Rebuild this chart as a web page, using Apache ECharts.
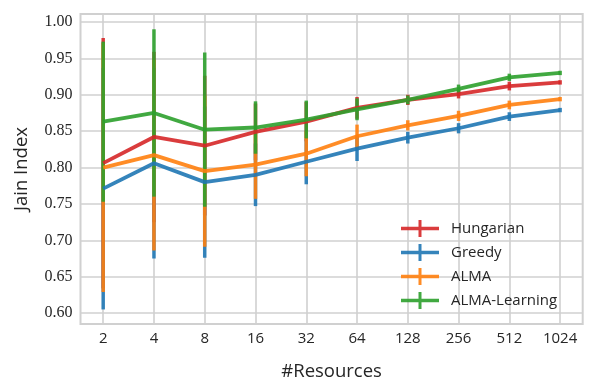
<!DOCTYPE html>
<html>
<head>
<meta charset="utf-8">
<script src="https://cdn.jsdelivr.net/npm/echarts@6/dist/echarts.min.js"></script>
<style>
  html, body { margin: 0; padding: 0; background: #fff; }
  #chart { width: 598px; height: 388px; }
</style>
</head>
<body>
<div id="chart"></div>
<script>
// x categories (#Resources) and y tick labels
var categories = ['2', '4', '8', '16', '32', '64', '128', '256', '512', '1024'];
var yTicks = [0.60, 0.65, 0.70, 0.75, 0.80, 0.85, 0.90, 0.95, 1.00];

// mean Jain index per method, with error half-widths
var hungarianMean = [0.806, 0.842, 0.830, 0.849, 0.863, 0.882, 0.893, 0.901, 0.912, 0.917];
var hungarianErr  = [0.172, 0.117, 0.096, 0.039, 0.027, 0.015, 0.007, 0.006, 0.006, 0.003];

var greedyMean = [0.771, 0.806, 0.780, 0.790, 0.808, 0.826, 0.841, 0.854, 0.870, 0.879];
var greedyErr  = [0.166, 0.131, 0.104, 0.043, 0.031, 0.017, 0.008, 0.007, 0.006, 0.003];

var almaMean = [0.800, 0.817, 0.795, 0.804, 0.819, 0.843, 0.858, 0.871, 0.886, 0.894];
var almaErr  = [0.171, 0.131, 0.104, 0.047, 0.031, 0.016, 0.007, 0.007, 0.006, 0.003];

var almaLearningMean = [0.863, 0.875, 0.852, 0.855, 0.866, 0.880, 0.893, 0.908, 0.924, 0.930];
var almaLearningErr  = [0.110, 0.115, 0.106, 0.036, 0.026, 0.015, 0.006, 0.006, 0.005, 0.003];

var methods = [
  { name: 'Hungarian', color: '#d62728', mean: hungarianMean, err: hungarianErr },
  { name: 'Greedy', color: '#1f77b4', mean: greedyMean, err: greedyErr },
  { name: 'ALMA', color: '#ff7f0e', mean: almaMean, err: almaErr },
  { name: 'ALMA-Learning', color: '#2ca02c', mean: almaLearningMean, err: almaLearningErr }
];

var textColor = '#262626';
var gridColor = '#d0d0d0';
var sansFont = 'Open Sans';
var serifFont = 'Liberation Serif';
var plusIcon = 'path://M0,6.75L38,6.75L38,10.25L0,10.25Z M17.5,0L20.5,0L20.5,17L17.5,17Z';

var xIdx = categories.map(function (c, i) { return i; });

var series = [];
methods.forEach(function (m) {
  var bars = m.mean.map(function (v, i) {
    return [i, v - m.err[i], v + m.err[i]];
  });
  // vertical error bars
  series.push({
    name: m.name,
    type: 'custom',
    z: 1,
    data: bars,
    encode: { x: 0, y: [1, 2] },
    itemStyle: { color: m.color },
    renderItem: function (params, api) {
      var lo = api.coord([api.value(0), api.value(1)]);
      var hi = api.coord([api.value(0), api.value(2)]);
      return {
        type: 'line',
        shape: { x1: lo[0], y1: lo[1], x2: hi[0], y2: hi[1] },
        style: { stroke: m.color, lineWidth: 3.5, opacity: 0.9 }
      };
    }
  });
  series.push({
    name: m.name,
    type: 'line',
    z: 2,
    symbol: 'none',
    data: m.mean.map(function (v, i) { return [i, v]; }),
    itemStyle: { color: m.color },
    lineStyle: { color: m.color, width: 3.8, opacity: 0.9 }
  });
});

var chart = echarts.init(document.getElementById('chart'));
var option = {
  animation: false,
  backgroundColor: '#fff',
  grid: {
    left: 80.5,
    right: 15.3,
    top: 14,
    bottom: 64,
    show: true,
    borderColor: gridColor,
    borderWidth: 2
  },
  legend: {
    orient: 'vertical',
    left: 401,
    top: 220,
    padding: 0,
    itemWidth: 38,
    itemHeight: 17,
    itemGap: 7,
    data: methods.map(function (m) {
      return { name: m.name, icon: plusIcon, itemStyle: { color: m.color, opacity: 0.9 } };
    }),
    textStyle: { fontFamily: sansFont, fontSize: 15, color: textColor, padding: [0, 0, 0, 7] }
  },
  xAxis: {
    type: 'value',
    min: -0.447,
    max: 9.445,
    name: '#Resources',
    nameLocation: 'middle',
    nameGap: 38,
    nameTextStyle: { fontFamily: sansFont, fontSize: 18.5, color: textColor },
    axisLine: { show: false },
    axisTick: { show: false, customValues: xIdx },
    axisLabel: {
      customValues: xIdx,
      margin: 7,
      fontFamily: sansFont,
      fontSize: 15,
      color: textColor,
      formatter: function (v) { return categories[Math.round(v)]; }
    },
    splitLine: { show: true, lineStyle: { color: gridColor, width: 1.6 } }
  },
  yAxis: {
    type: 'value',
    min: 0.585,
    max: 1.011,
    name: 'Jain Index',
    nameLocation: 'middle',
    nameGap: 49,
    nameRotate: 90,
    nameTextStyle: { fontFamily: sansFont, fontSize: 18.5, color: textColor },
    axisLine: { show: false },
    axisTick: { show: false, customValues: yTicks },
    axisLabel: {
      customValues: yTicks,
      margin: 8,
      fontFamily: serifFont,
      fontSize: 16,
      color: textColor,
      formatter: function (v) { return v.toFixed(2); }
    },
    splitLine: { show: true, lineStyle: { color: gridColor, width: 1.6 } }
  },
  series: series
};
chart.setOption(option);
</script>
</body>
</html>
